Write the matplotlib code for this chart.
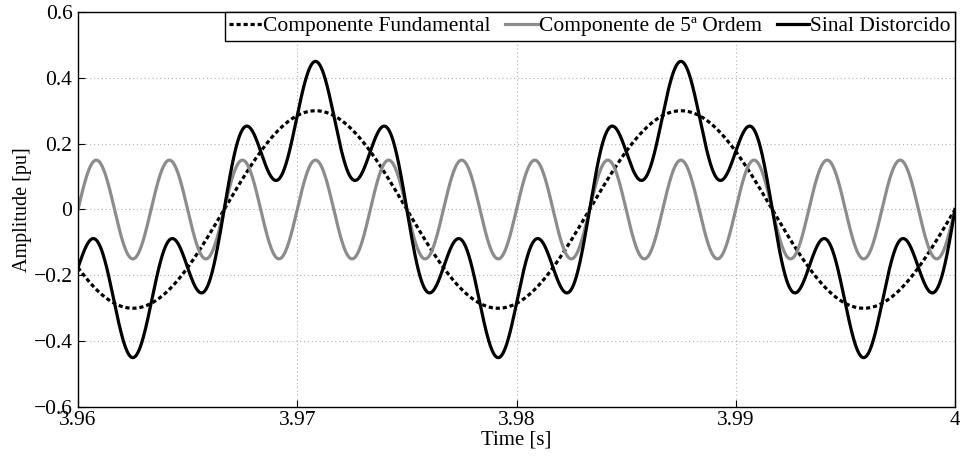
import numpy as np
import matplotlib
matplotlib.use("Agg")
import matplotlib.pyplot as plt

# Signal parameters (amplitude in pu, frequency in Hz)
f_fund = 60.0
amp_fund = 0.30
harm_order = 5
amp_harm = 0.15
t_start, t_end = 3.96, 4.00

xticks = [3.96, 3.97, 3.98, 3.99, 4.00]
xtick_labels = ["3.96", "3.97", "3.98", "3.99", "4"]
yticks = [-0.6, -0.4, -0.2, 0.0, 0.2, 0.4, 0.6]
ytick_labels = ["\u22120.6", "\u22120.4", "\u22120.2", "0", "0.2", "0.4", "0.6"]

t = np.linspace(t_start, t_end, 4000)
fund = amp_fund * np.sin(2 * np.pi * f_fund * t)
harm = amp_harm * np.sin(2 * np.pi * harm_order * f_fund * t)
dist = fund + harm

plt.rcParams["font.family"] = ["Liberation Serif", "DejaVu Serif"]

fig = plt.figure(figsize=(9.6, 4.57), dpi=100)
ax = fig.add_axes([78 / 960, 1 - 407 / 457, (955 - 78) / 960, (407 - 12) / 457])

ax.plot(t, fund, color="black", lw=2.3, ls=(0, (1.3, 0.9)), label="Componente Fundamental")
ax.plot(t, harm, color="#8c8c8c", lw=2.3, label="Componente de 5ª Ordem")
ax.plot(t, dist, color="black", lw=2.3, label="Sinal Distorcido")

ax.set_xlim(t_start, t_end)
ax.set_ylim(-0.6, 0.6)
ax.set_xticks(xticks)
ax.set_xticklabels(xtick_labels)
ax.set_yticks(yticks)
ax.set_yticklabels(ytick_labels)
ax.tick_params(direction="in", length=5, width=0.8, labelsize=15.5, pad=3)
ax.tick_params(axis="y", pad=4)
ax.grid(True, color="#b0b0b0", ls=(0, (1, 2.5)), lw=0.8)
for s in ax.spines.values():
    s.set_linewidth(1.0)

ax.set_xlabel("Time [s]", fontsize=15, labelpad=0)
ax.set_ylabel("Amplitude [pu]", fontsize=14.5, labelpad=1)

leg = ax.legend(loc="upper right", ncol=3, fontsize=15.5, frameon=True, fancybox=False,
                edgecolor="black", borderaxespad=0, handlelength=1.5, handletextpad=0.05,
                columnspacing=0.7, borderpad=0.2)
leg.get_frame().set_linewidth(1.0)
leg.get_frame().set_alpha(1)

fig.savefig("out.png", dpi=100)
